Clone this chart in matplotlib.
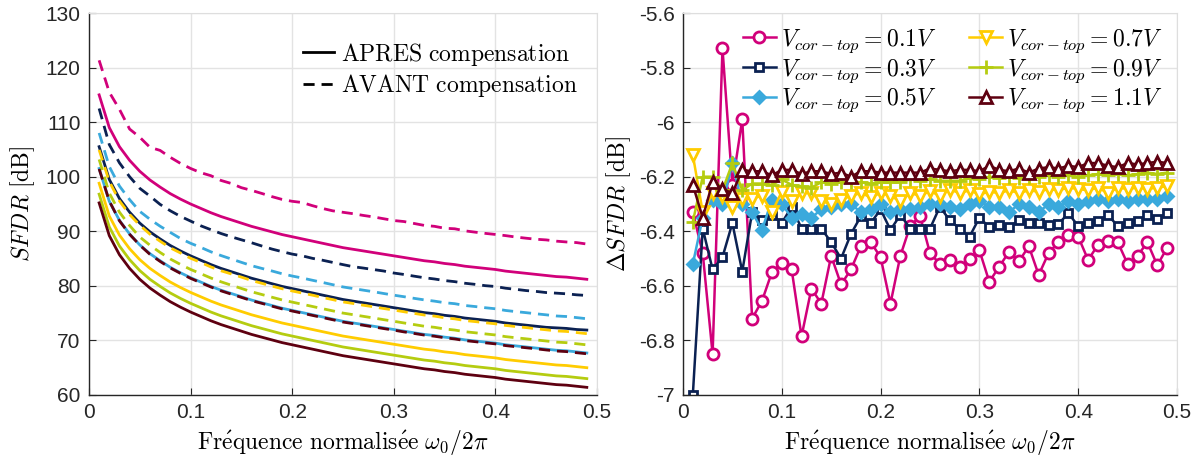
import numpy as np
import matplotlib
matplotlib.use("Agg")
import matplotlib.pyplot as plt
from matplotlib.ticker import FuncFormatter

plt.rcParams['font.family'] = ['Liberation Sans', 'DejaVu Sans']
plt.rcParams['mathtext.fontset'] = 'cm'
plt.rcParams['axes.unicode_minus'] = False

# normalised frequency, 0.01 .. 0.49
freq = np.round(np.arange(1, 50) * 0.01, 2)

# SFDR after compensation (APRES)
apres_01 = [115.0, 109.0, 105.5, 103.0, 101.0, 99.4, 98.1, 96.9, 95.9, 95.0,
            94.2, 93.4, 92.7, 92.1, 91.5, 90.9, 90.4, 89.9, 89.4, 89.0,
            88.6, 88.2, 87.8, 87.4, 87.0, 86.7, 86.4, 86.1, 85.8, 85.5,
            85.2, 84.9, 84.6, 84.4, 84.1, 83.9, 83.6, 83.4, 83.2, 83.0,
            82.7, 82.5, 82.3, 82.1, 81.9, 81.7, 81.6, 81.4, 81.2]
apres_03 = [105.5, 99.5, 96.0, 93.5, 91.5, 89.9, 88.6, 87.4, 86.4, 85.5,
            84.7, 83.9, 83.2, 82.6, 82.0, 81.4, 80.9, 80.4, 79.9, 79.5,
            79.1, 78.7, 78.3, 77.9, 77.5, 77.2, 76.9, 76.6, 76.3, 76.0,
            75.7, 75.4, 75.1, 74.9, 74.6, 74.4, 74.1, 73.9, 73.7, 73.5,
            73.2, 73.0, 72.8, 72.6, 72.4, 72.3, 72.2, 72.0, 71.9]
apres_05 = [101.5, 95.5, 92.0, 89.5, 87.5, 85.9, 84.6, 83.4, 82.4, 81.5,
            80.7, 79.9, 79.2, 78.6, 78.0, 77.4, 76.9, 76.4, 75.9, 75.5,
            75.1, 74.7, 74.3, 73.9, 73.5, 73.2, 72.9, 72.6, 72.3, 72.0,
            71.7, 71.4, 71.1, 70.9, 70.6, 70.4, 70.1, 69.9, 69.7, 69.5,
            69.2, 69.0, 68.8, 68.6, 68.4, 68.2, 68.1, 67.9, 67.7]
apres_07 = [98.8, 92.8, 89.3, 86.8, 84.8, 83.2, 81.9, 80.7, 79.7, 78.8,
            78.0, 77.2, 76.5, 75.9, 75.3, 74.7, 74.2, 73.7, 73.2, 72.8,
            72.4, 72.0, 71.6, 71.2, 70.8, 70.5, 70.2, 69.9, 69.6, 69.3,
            69.0, 68.7, 68.4, 68.2, 67.9, 67.7, 67.4, 67.2, 67.0, 66.8,
            66.5, 66.3, 66.1, 65.9, 65.7, 65.5, 65.4, 65.2, 65.0]
apres_09 = [96.8, 90.8, 87.3, 84.8, 82.8, 81.2, 79.9, 78.7, 77.7, 76.8,
            76.0, 75.2, 74.5, 73.9, 73.3, 72.7, 72.2, 71.7, 71.2, 70.8,
            70.4, 70.0, 69.6, 69.2, 68.8, 68.5, 68.2, 67.9, 67.6, 67.3,
            67.0, 66.7, 66.4, 66.2, 65.9, 65.7, 65.4, 65.2, 65.0, 64.8,
            64.5, 64.3, 64.1, 63.9, 63.7, 63.5, 63.4, 63.2, 63.0]
apres_11 = [95.2, 89.2, 85.7, 83.2, 81.2, 79.6, 78.3, 77.1, 76.1, 75.2,
            74.4, 73.6, 72.9, 72.3, 71.7, 71.1, 70.6, 70.1, 69.6, 69.2,
            68.8, 68.4, 68.0, 67.6, 67.2, 66.9, 66.6, 66.3, 66.0, 65.7,
            65.4, 65.1, 64.8, 64.6, 64.3, 64.1, 63.8, 63.6, 63.4, 63.2,
            62.9, 62.7, 62.5, 62.3, 62.1, 61.9, 61.8, 61.6, 61.4]

# Delta SFDR = APRES - AVANT
d_01 = [-6.33, -6.48, -6.85, -5.73, -6.23, -5.99, -6.72, -6.655, -6.55, -6.515,
        -6.54, -6.785, -6.61, -6.665, -6.49, -6.595, -6.54, -6.455, -6.44, -6.495,
        -6.665, -6.49, -6.38, -6.345, -6.48, -6.52, -6.505, -6.53, -6.50, -6.47,
        -6.585, -6.53, -6.475, -6.51, -6.455, -6.56, -6.48, -6.44, -6.415, -6.42,
        -6.505, -6.45, -6.435, -6.44, -6.52, -6.49, -6.44, -6.525, -6.46]
d_03 = [-7.00, -6.39, -6.54, -6.495, -6.37, -6.548, -6.33, -6.36, -6.34, -6.37,
        -6.31, -6.39, -6.39, -6.39, -6.44, -6.50, -6.41, -6.345, -6.37, -6.32,
        -6.395, -6.34, -6.39, -6.39, -6.39, -6.31, -6.36, -6.39, -6.42, -6.35,
        -6.385, -6.376, -6.385, -6.36, -6.368, -6.368, -6.376, -6.373, -6.334, -6.381,
        -6.368, -6.363, -6.34, -6.381, -6.371, -6.361, -6.34, -6.355, -6.334]
d_05 = [-6.52, -6.35, -6.285, -6.30, -6.15, -6.30, -6.33, -6.395, -6.285, -6.30,
        -6.35, -6.335, -6.35, -6.32, -6.31, -6.30, -6.30, -6.33, -6.32, -6.30,
        -6.33, -6.32, -6.32, -6.31, -6.30, -6.30, -6.31, -6.32, -6.30, -6.29,
        -6.31, -6.31, -6.33, -6.30, -6.31, -6.33, -6.30, -6.31, -6.29, -6.30,
        -6.29, -6.28, -6.29, -6.28, -6.29, -6.28, -6.28, -6.28, -6.27]
d_07 = [-6.12, -6.33, -6.26, -6.27, -6.31, -6.28, -6.28, -6.27, -6.33, -6.255,
        -6.29, -6.26, -6.26, -6.29, -6.30, -6.285, -6.27, -6.26, -6.275, -6.26,
        -6.27, -6.29, -6.26, -6.27, -6.253, -6.27, -6.247, -6.26, -6.25, -6.265,
        -6.255, -6.26, -6.25, -6.26, -6.25, -6.255, -6.245, -6.25, -6.24, -6.245,
        -6.25, -6.24, -6.26, -6.24, -6.245, -6.24, -6.245, -6.24, -6.235]
d_09 = [-6.365, -6.20, -6.20, -6.25, -6.15, -6.25, -6.225, -6.225, -6.23, -6.21,
        -6.23, -6.235, -6.24, -6.22, -6.225, -6.22, -6.22, -6.22, -6.225, -6.22,
        -6.22, -6.22, -6.21, -6.215, -6.21, -6.215, -6.215, -6.215, -6.205, -6.21,
        -6.20, -6.205, -6.20, -6.205, -6.20, -6.20, -6.195, -6.20, -6.195, -6.20,
        -6.195, -6.19, -6.195, -6.19, -6.195, -6.19, -6.185, -6.19, -6.185]
d_11 = [-6.23, -6.35, -6.22, -6.245, -6.26, -6.175, -6.18, -6.18, -6.195, -6.175,
        -6.175, -6.19, -6.18, -6.18, -6.19, -6.185, -6.20, -6.18, -6.18, -6.185,
        -6.185, -6.185, -6.185, -6.185, -6.17, -6.175, -6.18, -6.175, -6.175, -6.18,
        -6.16, -6.175, -6.18, -6.17, -6.185, -6.17, -6.165, -6.17, -6.16, -6.165,
        -6.15, -6.15, -6.16, -6.165, -6.15, -6.155, -6.15, -6.145, -6.15]

volts = ['0.1', '0.3', '0.5', '0.7', '0.9', '1.1']
colors = ['#d1007a', '#0b2152', '#3aa9dc', '#ffcc00', '#b5cc10', '#5e0010']
markers = ['o', 's', 'D', 'v', '+', '^']
msizes = [8, 5.5, 6.5, 8, 9.5, 8]
faces = ['white', 'white', None, 'white', None, 'white']

apres = [apres_01, apres_03, apres_05, apres_07, apres_09, apres_11]
deltas = [d_01, d_03, d_05, d_07, d_09, d_11]

fig = plt.figure(figsize=(11.99, 4.61), dpi=100)
ax1 = fig.add_axes([0.0742, 0.1432, 0.4237, 0.8286])
ax2 = fig.add_axes([0.5696, 0.1432, 0.4121, 0.8286])

fmt = FuncFormatter(lambda v, p: f'{v:g}')
for ax in (ax1, ax2):
    ax.grid(True, color='#e3e3e3', linewidth=1.0)
    ax.set_axisbelow(True)
    for s in ('top', 'right'):
        ax.spines[s].set_color('#dedede')
    for s in ('left', 'bottom'):
        ax.spines[s].set_color('#262626')
        ax.spines[s].set_linewidth(1.0)
    ax.tick_params(direction='in', length=5, labelsize=15, color='#262626',
                   labelcolor='#262626', pad=6)
    ax.xaxis.set_major_formatter(fmt)
    ax.yaxis.set_major_formatter(fmt)
    ax.set_xlim(0, 0.5)
    ax.set_xticks([0, 0.1, 0.2, 0.3, 0.4, 0.5])
    ax.set_xlabel(r'$\mathrm{Fr\acute{e}quence\ normalis\acute{e}e}\ \omega_0/2\pi$',
                  fontsize=17, labelpad=4)

# left panel
for a, d, c in zip(apres, deltas, colors):
    a = np.array(a)
    avant = a - np.array(d)
    ax1.plot(freq, a, color=c, linewidth=2.0)
    ax1.plot(freq, avant, color=c, linewidth=2.0, dashes=(4, 2.5))
ax1.set_ylim(60, 130)
ax1.set_yticks(np.arange(60, 131, 10))
ax1.set_ylabel(r'$SFDR\ [\mathrm{dB}]$', fontsize=17, labelpad=6)
h1, = ax1.plot([], [], color='black', linewidth=2.0)
h2, = ax1.plot([], [], color='black', linewidth=2.0, dashes=(4, 2.5))
ax1.legend([h1, h2], [r'$\mathrm{APRES\ compensation}$', r'$\mathrm{AVANT\ compensation}$'],
           loc='upper right', bbox_to_anchor=(0.99, 0.965), frameon=False,
           fontsize=17, handlelength=1.3, handletextpad=0.3, labelspacing=0.2,
           borderaxespad=0.2)

# right panel
for v, d, c, m, ms, fc in zip(volts, deltas, colors, markers, msizes, faces):
    ax2.plot(freq, d, color=c, linewidth=1.8, marker=m, markersize=ms,
             markeredgewidth=2.0, markerfacecolor=fc if fc else c,
             label=r'$V_{cor-top} = ' + v + r'V$')
ax2.set_ylim(-7, -5.6)
ax2.set_yticks(np.round(np.arange(-7, -5.59, 0.2), 1))
ax2.set_ylabel(r'$\Delta SFDR\ [\mathrm{dB}]$', fontsize=17, labelpad=4)
ax2.legend(loc='upper right', ncol=2, frameon=False, fontsize=17,
           handlelength=1.4, handletextpad=0.2, labelspacing=0.1,
           columnspacing=1.4, borderaxespad=0.2)

fig.savefig('out.png', dpi=100)
